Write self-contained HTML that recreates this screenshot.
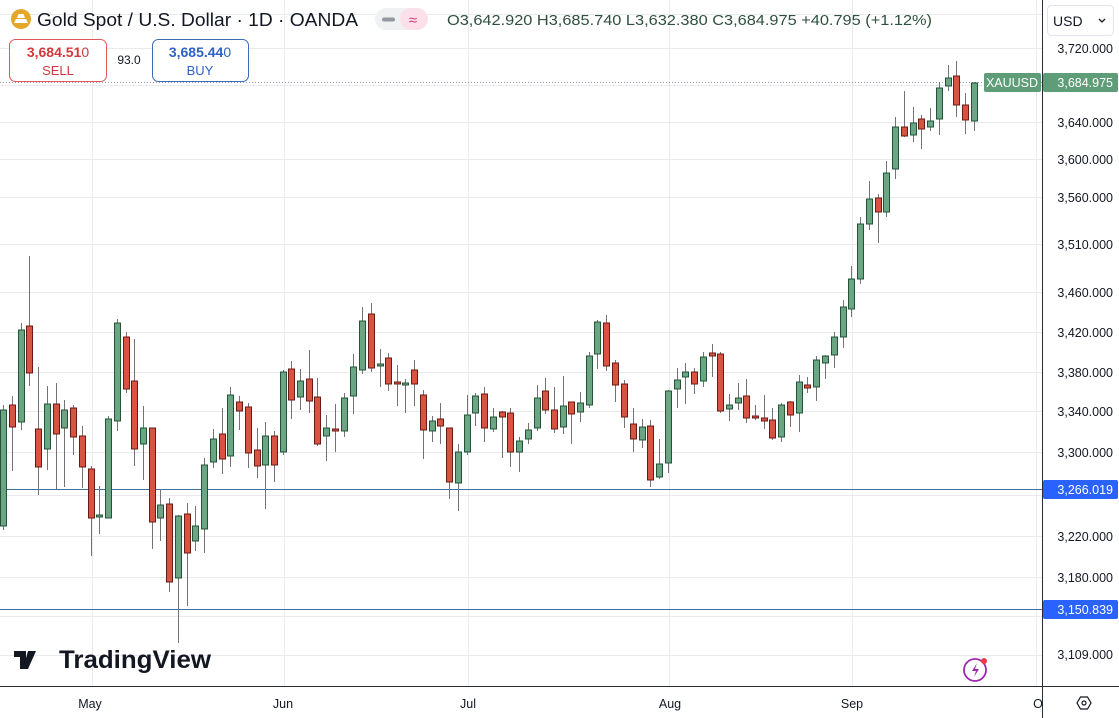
<!DOCTYPE html>
<html><head><meta charset="utf-8">
<style>
html,body{margin:0;padding:0;background:#fff;}
body{width:1119px;height:718px;position:relative;overflow:hidden;font-family:"Liberation Sans","DejaVu Sans",sans-serif;}
svg{position:absolute;left:0;top:0;}
</style></head><body>
<svg id="s" width="1119" height="718" xmlns="http://www.w3.org/2000/svg" font-family="Liberation Sans, DejaVu Sans, sans-serif">
<g id="grid" stroke="#e9eaee" stroke-width="1"></g>
<line x1="0" y1="82.5" x2="1042" y2="82.5" stroke="#9598a1" stroke-width="1" stroke-dasharray="1,2"/>
<line x1="0" y1="489.5" x2="1042" y2="489.5" stroke="#3d6fa3" stroke-width="1"/>
<line x1="0" y1="609.5" x2="1042" y2="609.5" stroke="#3d6fa3" stroke-width="1"/>
<g id="candles"></g>
<line x1="1042.5" y1="0" x2="1042.5" y2="718" stroke="#2a2e39" stroke-width="1"/>
<line x1="0" y1="686.5" x2="1119" y2="686.5" stroke="#2a2e39" stroke-width="1"/>
<g font-size="12.5" fill="#131722" text-anchor="end">
<text x="1113" y="53">3,720.000</text>
<text x="1113" y="127">3,640.000</text>
<text x="1113" y="164">3,600.000</text>
<text x="1113" y="202">3,560.000</text>
<text x="1113" y="249">3,510.000</text>
<text x="1113" y="297">3,460.000</text>
<text x="1113" y="337">3,420.000</text>
<text x="1113" y="377">3,380.000</text>
<text x="1113" y="416">3,340.000</text>
<text x="1113" y="457">3,300.000</text>
<text x="1113" y="541">3,220.000</text>
<text x="1113" y="582">3,180.000</text>
<text x="1113" y="659">3,109.000</text>
</g>
<rect x="1043" y="480" width="75" height="19" rx="2" fill="#2962ff"/>
<text x="1113" y="494" font-size="12.5" fill="#fff" text-anchor="end">3,266.019</text>
<rect x="1043" y="600" width="75" height="19" rx="2" fill="#2962ff"/>
<text x="1113" y="614" font-size="12.5" fill="#fff" text-anchor="end">3,150.839</text>
<rect x="984" y="73" width="57" height="19" rx="2" fill="#5e9d78"/>
<text x="1012" y="87" font-size="12.5" fill="#fff" text-anchor="middle">XAUUSD</text>
<rect x="1043" y="73" width="75" height="19" rx="2" fill="#5e9d78"/>
<text x="1113" y="87" font-size="12.5" fill="#fff" text-anchor="end">3,684.975</text>
<rect x="1047.5" y="5.5" width="66" height="30" rx="4" fill="#fff" stroke="#e0e3eb"/>
<text x="1053" y="26" font-size="14" fill="#131722">USD</text>
<path d="M1099 19 l3 3 l3 -3" stroke="#131722" fill="none" stroke-width="1.3"/>
<g font-size="12.5" fill="#131722" text-anchor="middle">
<text x="90" y="708">May</text>
<text x="283" y="708">Jun</text>
<text x="468" y="708">Jul</text>
<text x="670" y="708">Aug</text>
<text x="852" y="708">Sep</text>
<text x="1038" y="708">O</text>
</g>
<path d="M1077 703 l3.5 -6 h7 l3.5 6 l-3.5 6 h-7 z" fill="none" stroke="#131722" stroke-width="1.2"/>
<circle cx="1084" cy="703" r="2" fill="none" stroke="#131722" stroke-width="1.2"/>
<circle cx="21" cy="19" r="10" fill="#e3a82b"/>
<path d="M14 23 h14 l-2 -4 h-10 z M17 18 h8 l-1.5 -4 h-5 z" fill="#fff"/>
<text x="37" y="26" font-size="18" fill="#131722" textLength="321" lengthAdjust="spacingAndGlyphs">Gold Spot / U.S. Dollar · 1D · OANDA</text>
<rect x="375" y="8" width="53" height="22" rx="11" fill="#f0f1f3"/>
<rect x="400" y="8" width="28" height="22" rx="11" fill="#fbe0ea"/>
<rect x="382" y="17.5" width="13" height="4" rx="2" fill="#9598a1"/>
<text x="413" y="25" font-size="15" fill="#d1397a" text-anchor="middle">≈</text>
<text x="447" y="25" font-size="14.5" fill="#2f4f3f" textLength="485" lengthAdjust="spacingAndGlyphs">O3,642.920 H3,685.740 L3,632.380 C3,684.975 +40.795 (+1.12%)</text>
<rect x="9.5" y="39.5" width="97" height="42" rx="6" fill="#fff" stroke="#e0565a"/>
<text x="58" y="57" font-size="14" fill="#d1393e" text-anchor="middle" font-weight="bold">3,684.51<tspan font-weight="normal">0</tspan></text>
<text x="58" y="75" font-size="13" fill="#d1393e" text-anchor="middle">SELL</text>
<text x="129" y="64" font-size="12" fill="#131722" text-anchor="middle">93.0</text>
<rect x="152.5" y="39.5" width="96" height="42" rx="6" fill="#fff" stroke="#3b6bb5"/>
<text x="200" y="57" font-size="14" fill="#2f62c4" text-anchor="middle" font-weight="bold">3,685.44<tspan font-weight="normal">0</tspan></text>
<text x="200" y="75" font-size="13" fill="#2f62c4" text-anchor="middle">BUY</text>
<path d="M14 651 h12 v18 h-6 v-12 h-6 z M28 651 h8 l-8 18 h-5 z" fill="#131722"/>
<circle cx="31" cy="655" r="3" fill="#131722"/>
<text x="59" y="668" font-size="25" font-weight="bold" fill="#131722" textLength="152" lengthAdjust="spacingAndGlyphs">TradingView</text>
<circle cx="975" cy="670" r="11" fill="none" stroke="#9c27b0" stroke-width="1.8"/>
<path d="M977 663 l-5 8 h4 l-2 6 l5 -8 h-4 z" fill="#9c27b0"/>
<circle cx="984" cy="661" r="3" fill="#f23645"/>
</svg>
<script>
var ns="http://www.w3.org/2000/svg";
var g=document.getElementById('grid');
[14,48,85,122,159,197,244,292,332,372,411,452,495,536,577,616,655].forEach(function(y){
 var l=document.createElementNS(ns,'line');l.setAttribute('x1',0);l.setAttribute('x2',1042);l.setAttribute('y1',y+.5);l.setAttribute('y2',y+.5);g.appendChild(l);});
[92,284,468,669,852,1036].forEach(function(x){
 var l=document.createElementNS(ns,'line');l.setAttribute('x1',x+.5);l.setAttribute('x2',x+.5);l.setAttribute('y1',0);l.setAttribute('y2',686);g.appendChild(l);});
var d=[
[3,410,526,405,530,1],[12,405,427,396,471,0],[21,330,422,323,430,1],[29,326,373,256,386,0],[38,429,467,367,495,0],
[47,404,449,386,470,1],[56,404,434,383,489,0],[64,410,428,400,487,1],[73,408,437,405,455,0],[82,436,467,426,488,0],
[91,469,518,466,556,0],[99,515,517,486,534,1],[108,419,518,416,518,1],[117,323,421,319,431,1],[126,337,389,332,393,0],
[134,381,449,339,466,0],[143,428,444,406,480,1],[152,428,522,428,549,0],[160,505,518,489,541,1],[169,504,582,498,592,0],
[178,516,578,515,643,1],[187,514,553,503,606,0],[195,526,541,506,551,1],[204,465,529,458,553,1],[213,439,462,429,468,1],
[222,434,459,408,474,0],[230,395,456,387,467,1],[239,402,411,396,430,0],[248,407,453,403,468,0],[257,450,466,428,478,0],
[265,436,465,422,509,1],[274,436,465,431,482,0],[283,372,452,370,455,1],[291,369,400,361,419,0],[300,381,397,369,410,1],
[309,379,401,350,413,0],[317,397,444,378,446,0],[326,428,436,415,461,1],[335,429,431,404,452,0],[344,398,431,393,437,1],
[353,367,396,354,414,1],[362,321,370,307,374,1],[371,314,368,303,372,0],[380,364,366,349,387,1],[388,358,384,353,391,0],
[397,382,384,365,406,0],[405,383,385,379,413,1],[414,370,384,360,406,0],[423,395,430,390,459,0],[432,421,431,416,442,1],
[440,419,426,403,444,0],[449,428,482,428,499,0],[458,452,483,444,511,1],[467,415,452,395,455,1],[475,396,413,393,426,1],
[484,394,428,387,442,0],[493,417,429,408,432,1],[502,412,417,411,458,0],[510,413,452,408,467,0],[519,441,452,437,472,1],
[528,430,439,423,444,1],[537,398,428,385,431,1],[545,391,410,378,414,0],[554,410,429,387,433,0],[563,406,427,376,434,1],
[571,402,414,402,444,0],[580,403,412,392,422,1],[589,356,405,352,408,1],[597,322,354,320,369,1],[606,323,366,315,371,0],
[615,363,385,360,402,0],[624,384,417,380,428,0],[633,424,439,408,452,0],[642,427,440,419,448,1],[650,426,480,420,487,0],
[659,464,477,439,479,1],[668,391,463,390,473,1],[677,380,389,368,408,1],[685,372,377,363,404,1],[694,372,384,368,394,0],
[703,357,381,352,387,1],[712,353,356,344,377,0],[720,354,411,352,413,0],[729,405,409,394,421,1],[738,398,403,383,410,1],
[746,396,418,379,423,0],[755,416,418,405,420,0],[764,418,421,395,429,0],[772,420,438,408,440,0],[781,405,437,403,442,1],
[790,402,415,401,427,0],[799,382,413,375,432,1],[807,385,388,377,393,0],[816,360,387,356,401,1],[825,356,363,355,379,1],
[834,337,355,332,368,1],[843,307,337,300,348,1],[851,279,309,266,317,1],[860,224,279,217,284,1],[869,199,224,181,230,1],
[878,198,212,194,243,0],[886,173,212,161,217,1],[895,127,169,117,179,1],[904,127,136,91,137,0],[913,123,135,107,142,1],
[921,119,129,115,149,0],[930,121,127,108,131,1],[939,88,119,82,135,1],[948,78,86,65,91,1],[956,76,105,61,117,0],
[965,105,120,93,134,0],[974,83,121,82,131,1]];
var c=document.getElementById('candles');
d.forEach(function(k){
 var x=k[0],up=k[5];
 var w=document.createElementNS(ns,'line');w.setAttribute('x1',x+.5);w.setAttribute('x2',x+.5);w.setAttribute('y1',k[3]);w.setAttribute('y2',k[4]);w.setAttribute('stroke','#737375');w.setAttribute('stroke-width',1);c.appendChild(w);
 var r=document.createElementNS(ns,'rect');var h=Math.max(k[2]-k[1],1.5);
 r.setAttribute('x',x-2.5);r.setAttribute('y',k[1]);r.setAttribute('width',6);r.setAttribute('height',h);
 r.setAttribute('fill',up?'#6ba583':'#d75442');r.setAttribute('stroke',up?'#225437':'#6b1a14');r.setAttribute('stroke-width',1);c.appendChild(r);
});
</script>
</body></html>
